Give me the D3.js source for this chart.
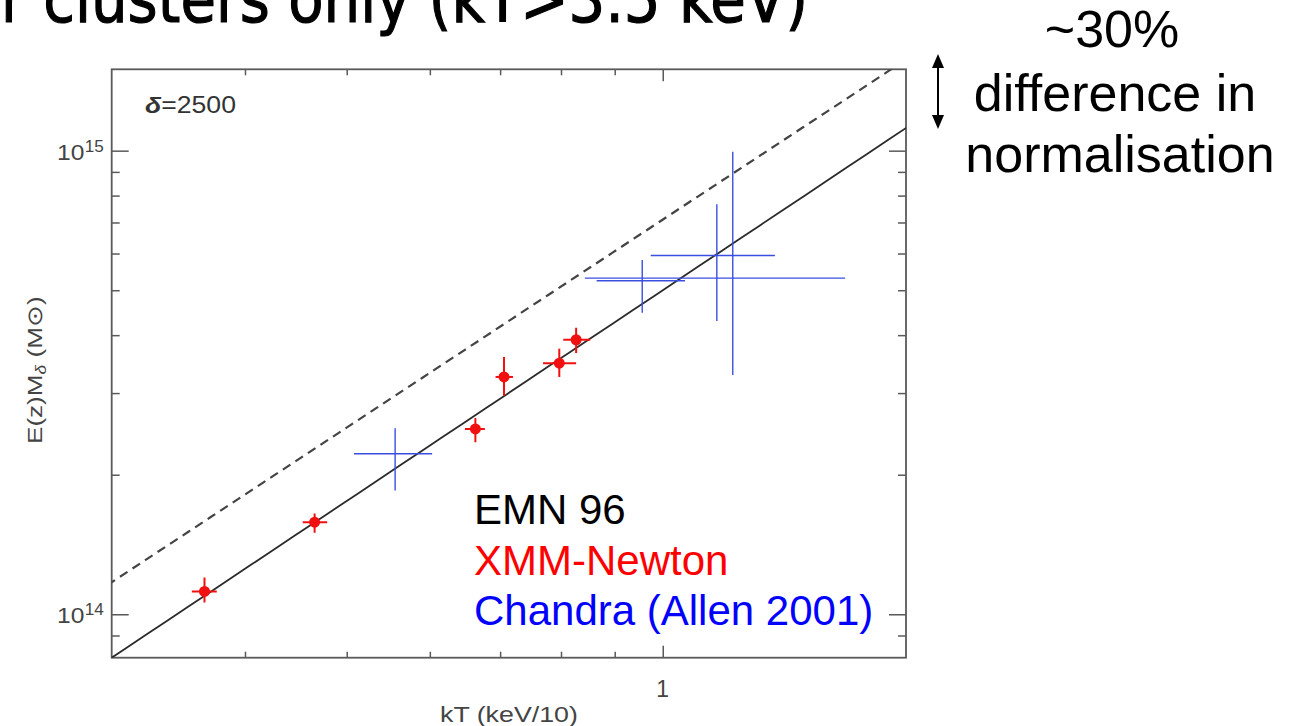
<!DOCTYPE html>
<html><head><meta charset="utf-8">
<script src="https://cdn.jsdelivr.net/npm/d3@7"></script>
<style>body{margin:0;background:#fff;overflow:hidden}svg{display:block}</style>
</head><body>
<svg id="chart" width="1289" height="726"></svg>
<script>
// XMM-Newton clusters: temperature (kT/10 keV) and E(z)M2500 (Msun) with error ranges
const xmmT   = [0.366, 0.466, 0.663, 0.706, 0.797, 0.827];
const xmmTlo = [0.356, 0.454, 0.648, 0.693, 0.769, 0.804];
const xmmThi = [0.376, 0.479, 0.677, 0.720, 0.827, 0.853];
const xmmM   = [1.12e14, 1.58e14, 2.51e14, 3.25e14, 3.48e14, 3.91e14];
const xmmMlo = [1.06e14, 1.50e14, 2.35e14, 2.96e14, 3.25e14, 3.66e14];
const xmmMhi = [1.20e14, 1.65e14, 2.65e14, 3.59e14, 3.74e14, 4.15e14];

// Chandra clusters (Allen 2001)
const chT   = [0.556, 0.956, 1.126, 1.166];
const chTlo = [0.508, 0.865, 0.974, 0.843];
const chThi = [0.603, 1.050, 1.279, 1.492];
const chM   = [2.22e14, 5.24e14, 5.94e14, 5.31e14];
const chMlo = [1.85e14, 4.47e14, 4.29e14, 3.28e14];
const chMhi = [2.52e14, 5.81e14, 7.66e14, 9.95e14];

// Power laws M = norm * T^slope : fit to XMM data (solid) and EMN 96 (dashed)
const lineNames = ["xmmFit", "emn96"];
const lineNorm  = [5.0e14, 7.1e14];
const lineSlope = [1.51, 1.49];

// Axis ticks
const xMinorTicks = [0.4, 0.5, 0.6, 0.7, 0.8, 0.9];
const xMajorTicks = [1];
const xMajorLabels = ["1"];
const yMinorTicks = [9e13, 2e14, 3e14, 4e14, 5e14, 6e14, 7e14, 8e14, 9e14];
const yMajorTicks = [1e14, 1e15];
const yMajorExp = ["14", "15"];

const svg = d3.select("#chart");
const L = 111.7, R = 906, T = 69.3, B = 657.7;
const x = d3.scaleLog().domain([0.2986, 1.705]).range([L, R]);
const y = d3.scaleLog().domain([8.06e13, 1.498e15]).range([B, T]);

const axisColor = "#5a5a5a";
const plotFont = "'Liberation Sans', Arial, sans-serif";

// stretch a group horizontally so its content spans a given width
function fitGroup(g, tx, ty, target, rot) {
  const w = g.node().getBBox().width;
  const s = target / w;
  g.attr("transform", `translate(${tx},${ty})` + (rot ? ` rotate(${rot})` : "") + ` scale(${s},1)`);
}

svg.append("clipPath").attr("id", "plotClip")
  .append("rect").attr("x", L).attr("y", T).attr("width", R - L).attr("height", B - T);

// axes with inward ticks on all four sides
function drawAxis(axisGen, tx, ty) {
  const g = svg.append("g").attr("transform", `translate(${tx},${ty})`).call(axisGen);
  g.selectAll("text").remove();
  g.select(".domain").remove();
  g.selectAll("line").attr("stroke", axisColor).attr("stroke-width", 1.5);
  return g;
}
drawAxis(d3.axisBottom(x).tickValues(xMinorTicks).tickSize(-6), 0, B);
drawAxis(d3.axisBottom(x).tickValues(xMajorTicks).tickSize(-12), 0, B);
drawAxis(d3.axisTop(x).tickValues(xMinorTicks).tickSize(-6), 0, T);
drawAxis(d3.axisTop(x).tickValues(xMajorTicks).tickSize(-12), 0, T);
drawAxis(d3.axisLeft(y).tickValues(yMinorTicks).tickSize(-8), L, 0);
drawAxis(d3.axisLeft(y).tickValues(yMajorTicks).tickSize(-17), L, 0);
drawAxis(d3.axisRight(y).tickValues(yMinorTicks).tickSize(-8), R, 0);
drawAxis(d3.axisRight(y).tickValues(yMajorTicks).tickSize(-17), R, 0);

svg.append("rect").attr("x", L).attr("y", T).attr("width", R - L).attr("height", B - T)
  .attr("fill", "none").attr("stroke", axisColor).attr("stroke-width", 1.8);

// power-law relations
const plot = svg.append("g").attr("clip-path", "url(#plotClip)");
const tGrid = d3.range(0, 41).map(i => 0.28 * Math.pow(1.8 / 0.28, i / 40));
const line = d3.line().x(d => x(d[0])).y(d => y(d[1]));
lineNames.forEach((name, i) => {
  plot.append("path")
    .attr("class", name)
    .attr("d", line(tGrid.map(t => [t, lineNorm[i] * Math.pow(t, lineSlope[i])])))
    .attr("fill", "none")
    .attr("stroke", i === 0 ? "#2b2b2b" : "#444")
    .attr("stroke-width", i === 0 ? 1.8 : 2.2)
    .attr("stroke-dasharray", i === 0 ? null : "9,6");
});

// Chandra error crosses
const blue = "#3a4fe0";
chT.forEach((t, i) => {
  plot.append("line").attr("x1", x(chTlo[i])).attr("x2", x(chThi[i]))
    .attr("y1", y(chM[i])).attr("y2", y(chM[i]))
    .attr("stroke", blue).attr("stroke-width", 1.4);
  plot.append("line").attr("x1", x(t)).attr("x2", x(t))
    .attr("y1", y(chMlo[i])).attr("y2", y(chMhi[i]))
    .attr("stroke", blue).attr("stroke-width", 1.4);
});

// XMM-Newton points with error bars
const red = "#f01010";
xmmT.forEach((t, i) => {
  plot.append("line").attr("x1", x(xmmTlo[i])).attr("x2", x(xmmThi[i]))
    .attr("y1", y(xmmM[i])).attr("y2", y(xmmM[i]))
    .attr("stroke", red).attr("stroke-width", 2);
  plot.append("line").attr("x1", x(t)).attr("x2", x(t))
    .attr("y1", y(xmmMlo[i])).attr("y2", y(xmmMhi[i]))
    .attr("stroke", red).attr("stroke-width", 2);
  plot.append("circle").attr("cx", x(t)).attr("cy", y(xmmM[i])).attr("r", 5.5).attr("fill", red);
});

// overdensity label
const dg = svg.append("g").attr("font-family", plotFont).attr("font-size", 23).attr("fill", "#333");
const dt = dg.append("text");
dt.append("tspan").attr("font-style", "italic").attr("font-weight", "bold").text("δ");
dt.append("tspan").text("=2500");
fitGroup(dg, 145, 113, 91);

// y tick labels 10^14, 10^15
yMajorTicks.forEach((v, i) => {
  const g = svg.append("g").attr("font-family", plotFont).attr("fill", "#444");
  g.append("text").attr("font-size", 23).attr("x", 0).attr("y", 0).text("10");
  g.append("text").attr("font-size", 16).attr("x", 26).attr("y", -8).text(yMajorExp[i]);
  fitGroup(g, 57, y(v) + 9, 47);
});

// x tick label
xMajorTicks.forEach((v, i) => {
  svg.append("text").attr("x", x(v)).attr("y", 697).attr("text-anchor", "middle")
    .attr("font-family", plotFont).attr("font-size", 23).attr("fill", "#444").text(xMajorLabels[i]);
});

// axis titles
const xl = svg.append("g").attr("font-family", plotFont).attr("font-size", 22).attr("fill", "#444");
xl.append("text").text("kT (keV/10)");
fitGroup(xl, 440, 722, 138);

const yl = svg.append("g").attr("font-family", plotFont).attr("font-size", 21).attr("fill", "#444");
const ylt = yl.append("text");
ylt.append("tspan").text("E(z)M");
ylt.append("tspan").attr("font-size", 14).attr("dy", 4).attr("font-style", "italic").text("δ");
ylt.append("tspan").attr("dy", -4).text(" (M");
ylt.append("tspan").text("⊙");
ylt.append("tspan").text(")");
fitGroup(yl, 42, 444, 148, -90);

// legend
const legendFont = "'Liberation Sans', Arial, sans-serif";
const legendText = ["EMN 96", "XMM-Newton", "Chandra (Allen 2001)"];
const legendColor = ["#000", "#ff0000", "#0000ff"];
legendText.forEach((t, i) => {
  svg.append("text").attr("x", 474).attr("y", 524 + i * 50.5)
    .attr("font-family", legendFont).attr("font-size", 42).attr("fill", legendColor[i]).text(t);
});

// normalisation annotation with double arrow
const noteLines = ["~30%", "difference in", "normalisation"];
const noteX = [1112, 1115, 1120];
const noteY = [47, 111, 172];
noteLines.forEach((t, i) => {
  svg.append("text").attr("x", noteX[i]).attr("y", noteY[i]).attr("text-anchor", "middle")
    .attr("font-family", legendFont).attr("font-size", 52).attr("fill", "#000").text(t);
});
svg.append("line").attr("x1", 938).attr("x2", 938).attr("y1", 64).attr("y2", 119)
  .attr("stroke", "#000").attr("stroke-width", 2);
svg.append("path").attr("d", "M938,54 L932,68 L944,68 Z M938,129 L932,115 L944,115 Z").attr("fill", "#000");

// slide heading (top edge)
const hg = svg.append("g").attr("font-family", "'DejaVu Sans', sans-serif").attr("font-size", 66)
  .attr("fill", "#000").attr("stroke", "#000").attr("stroke-width", 1.2);
const ht = hg.append("text").attr("text-anchor", "end").text("Hotter clusters only (kT>3.5 keV)");
const startIdx = "Hotter ".length;
const visLen = ht.node().getSubStringLength(startIdx, ht.text().length - startIdx);
const hs = (808 - 43) / visLen;
hg.attr("transform", `translate(808,22) scale(${hs},1)`);
</script>
</body></html>
